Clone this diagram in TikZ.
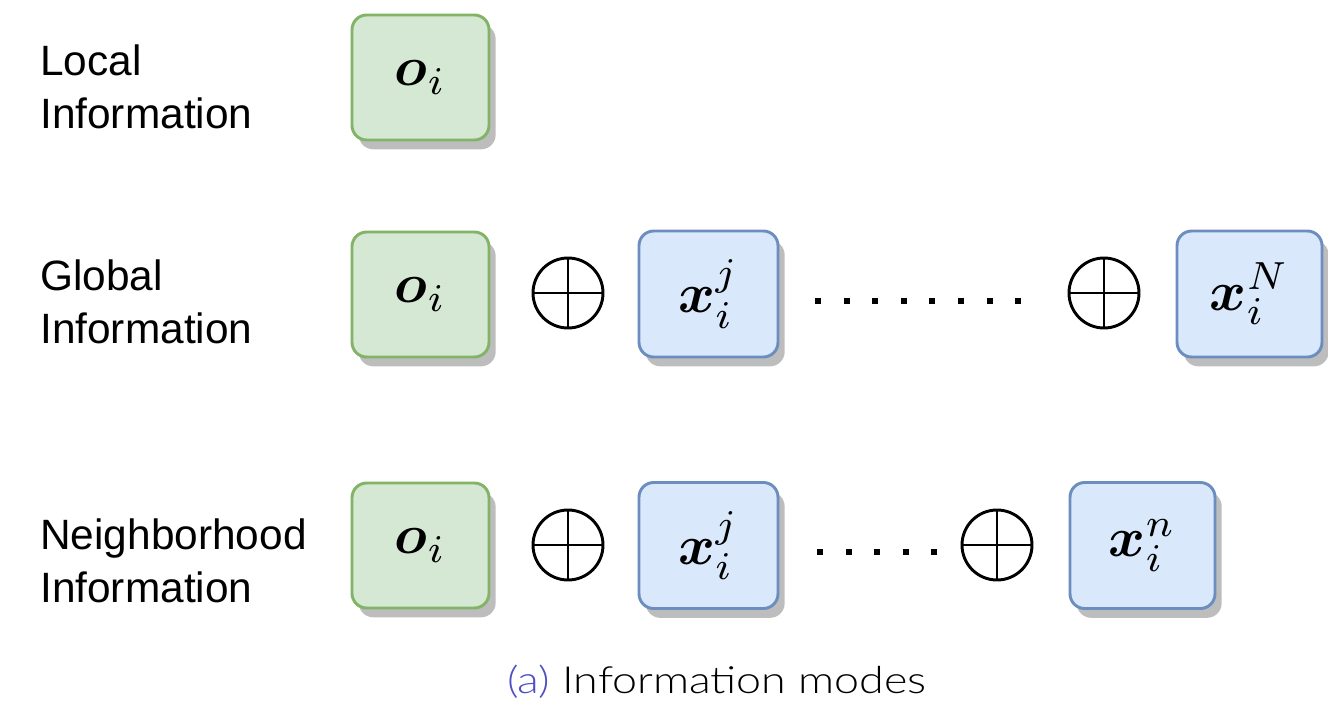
\documentclass[tikz,border=0pt]{standalone}
\usepackage{fontspec}
\usepackage{amsmath,bm,graphicx}
\newfontfamily\lblfont{Liberation Sans}
\newfontfamily\capfont{Lato}[UprightFont={* Light}]
\usetikzlibrary{shadows}
\definecolor{gfill}{HTML}{D5E8D4}
\definecolor{gdraw}{HTML}{82B366}
\definecolor{bfill}{HTML}{DAE8FC}
\definecolor{bdraw}{HTML}{6C8EBF}
\definecolor{shadowgray}{HTML}{BDBDBD}
\definecolor{capblue}{HTML}{4F4FC4}
\newcommand{\bigmath}[1]{\scalebox{4.2}{$#1$}}
\begin{document}
\begin{tikzpicture}[x=0.75pt,y=-0.75pt,
  box/.style={rounded corners=11pt, line width=2.2pt, inner sep=0pt,
    drop shadow={shadow xshift=5pt, shadow yshift=-7pt, fill=shadowgray, opacity=1}},
  gbox/.style={box, draw=gdraw, fill=gfill, minimum width=102.75pt, minimum height=93.75pt},
  bbox/.style={box, draw=bdraw, fill=bfill, minimum height=94.5pt},
  opl/.style={circle, draw, line width=2.2pt, minimum size=52.5pt, inner sep=0pt,
    path picture={\draw[line width=2.2pt] (path picture bounding box.north) -- (path picture bounding box.south) (path picture bounding box.west) -- (path picture bounding box.east);}},
  lbl/.style={anchor=base west, font=\lblfont\fontsize{31.8}{36}\selectfont, inner sep=0pt},
  sqdot/.style={fill=black}
]
\useasboundingbox (0,0) rectangle (1328,711);

% labels
\node[lbl] (l1a) at (40,75) {Local};
\node[lbl] (l1b) at (40,128) {Information};
\node[lbl] (l2a) at (40,290) {Global};
\node[lbl] (l2b) at (40,343) {Information};
\node[lbl] (l3a) at (40,549) {Neighborhood};
\node[lbl] (l3b) at (40,602) {Information};

% row 1
\node[gbox] (o1) at (420.5,77.5) {\bigmath{\bm{o}_i}};

% row 2
\node[gbox] (o2) at (420.5,294.5) {\bigmath{\bm{o}_i}};
\node[opl] (p21) at (568,293) {};
\node[bbox, minimum width=104.25pt] (x2j) at (708.5,294) {\bigmath{\bm{x}_i^j}};
\foreach \k in {0,...,7} {
  \fill[sqdot] ({818+28.6*\k-3},298) rectangle ++(6,6);
}
\node[opl] (p22) at (1104,293) {};
\node[bbox, minimum width=108.75pt] (x2N) at (1249.5,294) {\bigmath{\bm{x}_i^N}};

% row 3
\node[gbox] (o3) at (420.5,545.5) {\bigmath{\bm{o}_i}};
\node[opl] (p31) at (568,545) {};
\node[bbox, minimum width=104.25pt] (x3j) at (708.5,545.5) {\bigmath{\bm{x}_i^j}};
\foreach \k in {0,...,4} {
  \fill[sqdot] ({820+28.6*\k-3},549) rectangle ++(6,6);
}
\node[opl] (p32) at (997,545) {};
\node[bbox, minimum width=108.75pt] (x3n) at (1142.5,545.5) {\bigmath{\bm{x}_i^n}};

% caption
\node[anchor=base, inner sep=0pt, font=\capfont\fontsize{28}{32}\selectfont] (cap) at (717,693)
  {\scalebox{1.2}[1]{\textcolor{capblue}{(a)} Information modes}};
\end{tikzpicture}
\end{document}
